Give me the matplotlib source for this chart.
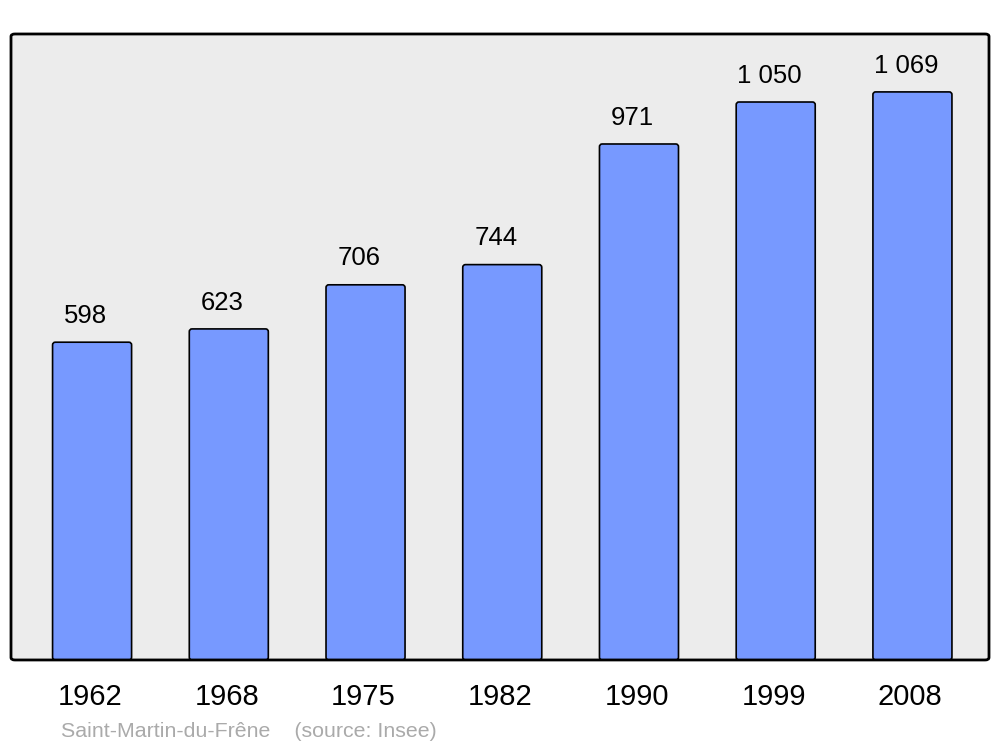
import matplotlib
matplotlib.use("Agg")
import matplotlib.pyplot as plt
from matplotlib.patches import FancyBboxPatch

plt.rcParams['font.family'] = ['Liberation Sans', 'DejaVu Sans']

# données
annees = ["1962", "1968", "1975", "1982", "1990", "1999", "2008"]
population = [598, 623, 706, 744, 971, 1050, 1069]
etiquettes = ["598", "623", "706", "744", "971", "1 050", "1 069"]

fig = plt.figure(figsize=(10, 7.47), dpi=100)
ax = fig.add_axes([0.011, 0.1165, 0.978, 0.838])
ax.set_xlim(-0.593, 6.56)
ax.set_ylim(0, 1178)
ax.set_facecolor("#ececec")
ax.set_xticks([])
ax.set_yticks([])
for s in ax.spines.values():
    s.set_visible(False)

# cadre arrondi
cadre = FancyBboxPatch((0, 0), 1, 1, boxstyle="round,pad=0,rounding_size=0.004",
                       transform=ax.transAxes, facecolor="none", edgecolor="black",
                       linewidth=2, clip_on=False, zorder=5)
ax.add_patch(cadre)

# barres aux coins arrondis
barres = ax.bar(range(len(annees)), population, width=0.578, color="none",
                edgecolor="none")
for b in barres:
    p = FancyBboxPatch((b.get_x(), b.get_y()), b.get_width(), b.get_height(),
                       boxstyle="round,pad=0,rounding_size=0.02",
                       mutation_aspect=260, facecolor="#7799ff",
                       edgecolor="black", linewidth=1.2, zorder=2)
    ax.add_patch(p)

for i, (v, t) in enumerate(zip(population, etiquettes)):
    ax.annotate(t, (i, v), xytext=(-4.5, 19), textcoords="offset points",
                ha="center", va="center", fontsize=18.5)

for i, a in enumerate(annees):
    ax.annotate(a, (i, 0), xytext=(-1.5, -27), textcoords="offset points",
                ha="center", va="center", fontsize=21, annotation_clip=False)

fig.text(0.061, 0.0205, "Saint-Martin-du-Frêne    (source: Insee)", color="#aaaaaa",
         fontsize=15.4, ha="left", va="center")

fig.savefig("out.png", dpi=100)
